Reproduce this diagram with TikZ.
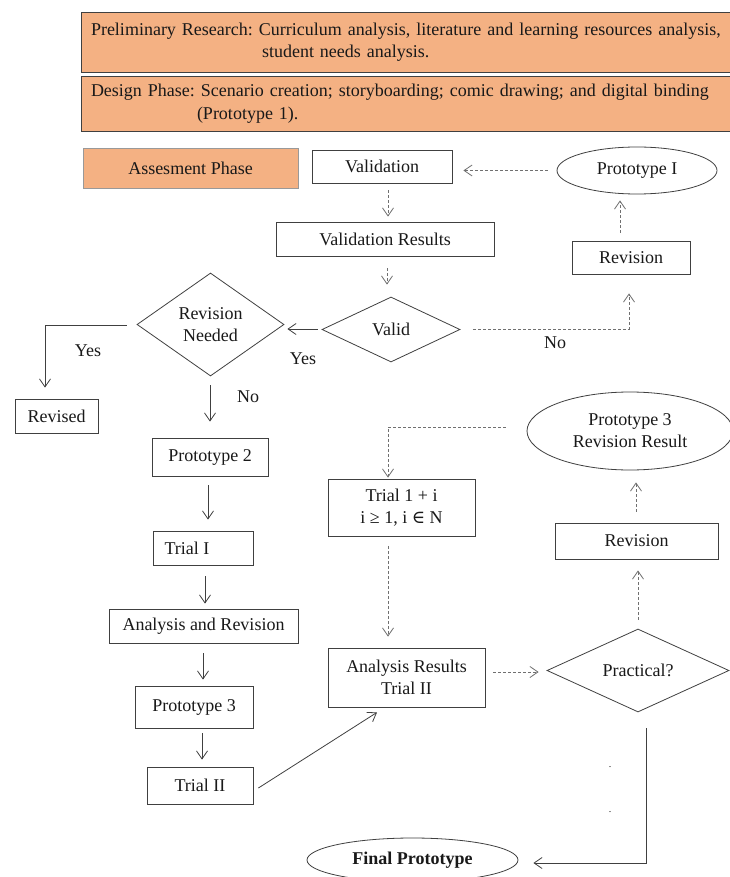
\documentclass[tikz,border=0pt]{standalone}
\usepackage{fontspec}
\setmainfont{Liberation Serif}
\newfontfamily\symfont{DejaVu Serif}
\usetikzlibrary{shapes.geometric,arrows.meta,calc}
\definecolor{phase}{HTML}{F4B183}
\definecolor{ln}{HTML}{404040}
\definecolor{dl}{HTML}{707070}
\frenchspacing
\begin{document}
\begin{tikzpicture}[x=1pt,y=-1pt,
  txt/.style={font=\fontsize{18}{22}\selectfont, text=black!90},
  rbox/.style={txt, draw=ln, line width=0.8pt, rectangle, inner sep=0pt, align=center},
  phasebox/.style={txt, draw=ln, fill=phase, line width=0.8pt, inner xsep=10pt, inner ysep=0pt, text width=630pt, align=left},
  ell/.style={txt, draw=ln, line width=0.8pt, ellipse, inner sep=0pt, align=center},
  dia/.style={txt, draw=ln, line width=0.8pt, diamond, inner sep=0pt, align=center},
  lbl/.style={txt},
  sarr/.style={draw=ln, line width=0.8pt, -{Straight Barb[length=8pt,width=11pt]}},
  darr/.style={draw=dl, line width=0.8pt, dash pattern=on 3pt off 2pt, -{Straight Barb[length=8pt,width=11pt]}}
]
\fill[white] (0,0) rectangle (729,877);
\useasboundingbox (0,0) rectangle (729,877);

% phase boxes
\node[phasebox, minimum height=60pt] (pre) at (406,42) {Preliminary Research: Curriculum analysis, literature and learning resources analysis,\\\hspace*{171pt}student needs analysis.};
\node[phasebox, minimum height=55pt] (design) at (406,103.5) {Design Phase: Scenario creation; storyboarding; comic drawing; and digital binding\\[1pt]\hspace*{106pt}(Prototype 1).};
\node[rbox, draw=black!40, fill=phase, minimum width=215pt, minimum height=40pt] (assess) at (190.5,168) {Assesment Phase};

% nodes
\node[rbox, minimum width=140pt, minimum height=33pt] (valid1) at (382,166.5) {Validation};
\node[ell, minimum width=160pt, minimum height=47pt] (p1) at (637,170.5) {Prototype I};
\node[rbox, minimum width=218pt, minimum height=34pt] (vres) at (385,239) {Validation Results};
\node[rbox, minimum width=118pt, minimum height=33pt] (rev1) at (631,257.5) {Revision};
\node[dia, aspect=2.1, minimum width=138pt, minimum height=65pt] (validD) at (391,329.5) {Valid};
\node[dia, aspect=1.43, minimum width=147pt, minimum height=103pt] (rnD) at (210.5,324.5) {Revision\\Needed};
\node[rbox, minimum width=83pt, minimum height=34pt] (revised) at (56.5,416) {Revised};
\node[rbox, minimum width=116pt, minimum height=38pt] (p2) at (210,457) {Prototype 2};
\node[rbox, minimum width=100pt, minimum height=34pt] (t1) at (203,548) {Trial I\hspace*{32pt}};
\node[rbox, minimum width=189pt, minimum height=34pt] (anrev) at (203.5,626) {Analysis and Revision};
\node[rbox, minimum width=118pt, minimum height=42pt] (p3) at (194,707) {Prototype 3};
\node[rbox, minimum width=106pt, minimum height=37pt] (t2) at (200,785.5) {Trial II};
\node[rbox, minimum width=157pt, minimum height=59pt] (ares) at (406.5,677.5) {Analysis Results\\Trial II};
\node[rbox, minimum width=147pt, minimum height=57pt] (trialN) at (401.5,507.5) {Trial 1 + i\\i ≥ 1, i {\symfont ∈} N};
\node[ell, minimum width=206pt, minimum height=78pt] (p3r) at (630,431) {Prototype 3\\Revision Result};
\node[rbox, minimum width=163pt, minimum height=36pt] (rev2) at (636.5,541) {Revision};
\node[dia, aspect=2.2, minimum width=182pt, minimum height=83pt] (prD) at (638,670.5) {Practical?};
\node[ell, minimum width=211pt, minimum height=44pt, font=\fontsize{18}{22}\selectfont\bfseries] (final) at (412.5,860) {Final Prototype};

% labels
\node[lbl] (yes1) at (303,359) {Yes};
\node[lbl] (yes2) at (88,351) {Yes};
\node[lbl] (no1) at (248,397) {No};
\node[lbl] (no2) at (555,343) {No};
\node[txt, font=\fontsize{10}{12}\selectfont] (dot1) at (610,767) {.};
\node[txt, font=\fontsize{10}{12}\selectfont] (dot2) at (610,812) {.};

% connectors
\draw[darr] ($(p1.west)+(-9,0)$) -- ($(p1.west -| valid1.east)+(11,0)$);
\draw[darr] ($(valid1.south)+(6,7)$) -- ($(vres.north)+(3,-5)$);
\draw[darr] ($(rev1.north)+(-11,-8)$) -- ($(p1.south)+(-17,6)$);
\draw[darr] ($(vres.south)+(2,12)$) -- ($(validD.north)+(-4,-12)$);
\draw[sarr] ($(validD.west)+(-4,-0.5)$) -- ($(rnD.east)+(3,4.5)$);
\draw[darr] ($(validD.east)+(13,-0.5)$) -| ($(rev1.south)+(-2,19)$);
\draw[sarr] ($(rnD.west)+(-10,0.5)$) -| ($(revised.north)+(-11.5,-11)$);
\draw[sarr] ($(rnD.south)+(-0.5,9)$) -- ($(p2.north)+(0,-16)$);
\draw[sarr] ($(p2.south)+(-2,9)$) -- ($(t1.north)+(5,-11)$);
\draw[sarr] ($(t1.south)+(2,11)$) -- ($(anrev.north)+(1.5,-5)$);
\draw[sarr] ($(anrev.south)+(-0.5,10)$) -- ($(p3.north)+(9,-6)$);
\draw[sarr] ($(p3.south)+(8,5)$) -- ($(t2.north)+(2,-7)$);
\draw[sarr] ($(t2.east)+(5,2.5)$) -- ($(ares.south)+(-29.5,5)$);
\draw[darr] ($(trialN.south)+(-13.5,10)$) -- ($(ares.north)+(-18.5,-11)$);
\draw[darr] ($(ares.east)+(8,-5.5)$) -- ($(prD.west)+(-8,1.5)$);
\draw[darr] ($(prD.north)+(0,-9)$) -- ($(rev2.south)+(1.5,11)$);
\draw[darr] ($(rev2.north)+(-0.5,-11)$) -- ($(p3r.south)+(6,12)$);
\draw[darr] ($(p3r.west)+(-21,-4)$) -| ($(trialN.north)+(-13.5,-1)$);
\draw[sarr] ($(prD.south)+(8,16)$) |- ($(final.east)+(15,3)$);
\end{tikzpicture}
\end{document}
